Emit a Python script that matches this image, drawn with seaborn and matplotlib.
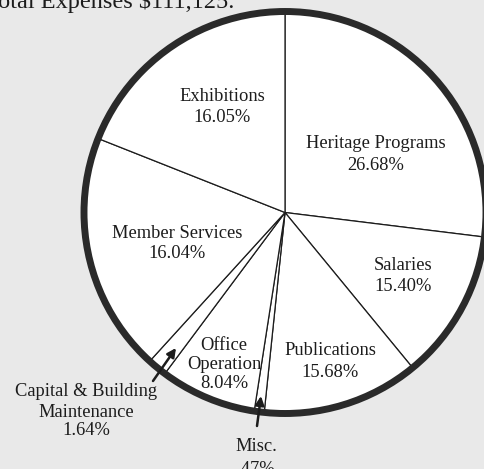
import matplotlib
matplotlib.use("Agg")
import matplotlib.pyplot as plt
import seaborn as sns
from matplotlib.patches import Circle

# ---- data (clockwise from 12 o'clock) ----
categories = ["Heritage Programs", "Salaries", "Publications", "Misc.",
              "Office\nOperation", "Capital & Building\nMaintenance",
              "Member Services", "Exhibitions"]
printed_pct = ["26.68%", "15.40%", "15.68%", ".47%",
               "8.04%", "1.64%", "16.04%", "16.05%"]
# share of the circle each wedge occupies in the artwork (percent)
drawn_share = [26.95, 12.1, 12.6, 0.8, 7.75, 1.55, 19.25, 19.0]
title = "Total Expenses $111,125."

sns.set_style("white")
plt.rcParams["font.family"] = ["Liberation Serif", "DejaVu Serif"]

W, H = 484, 469
fig = plt.figure(figsize=(W / 100, H / 100), dpi=100)
bg = "#e9e9e9"
fig.patch.set_facecolor(bg)
ax = fig.add_axes([0, 0, 1, 1])
ax.set_facecolor(bg)

cx, cy, r = 285.0, 212.5, 200.0
ink = "#1c1c1c"

# y axis inverted -> counterclock in data is clockwise on screen
ax.pie(drawn_share, center=(cx, cy), radius=r, startangle=-90,
       counterclock=True, colors=["white"] * len(drawn_share),
       wedgeprops=dict(edgecolor=ink, linewidth=0.9), frame=False)
ax.add_patch(Circle((cx, cy), r + 1, fill=False, edgecolor="#2a2a2a",
                    linewidth=5.0, zorder=5))

ax.set_xlim(0, W)
ax.set_ylim(H, 0)
ax.set_aspect("equal")
ax.axis("off")

fs = 13.3
def lines(x, ys, texts):
    for y, t in zip(ys, texts):
        ax.text(x, y, t, ha="center", va="baseline", fontsize=fs,
                color=ink, zorder=6)

lines(222, [101, 122], ["Exhibitions", printed_pct[7]])
lines(376, [148, 170], ["Heritage Programs", printed_pct[0]])
lines(177, [238, 258], ["Member Services", printed_pct[6]])
lines(403, [270, 291], ["Salaries", printed_pct[1]])
lines(330, [355, 377], ["Publications", printed_pct[2]])
lines(224, [350, 369, 388], ["Office", "Operation", printed_pct[4]])
lines(86, [396, 417, 435], ["Capital & Building", "Maintenance", printed_pct[5]])
lines(256, [451, 474], ["Misc.", printed_pct[3]])

arrow = dict(arrowstyle="-|>", color=ink, lw=1.8, mutation_scale=13,
             shrinkA=0, shrinkB=0)
ax.annotate("", xy=(176, 348), xytext=(153, 381), arrowprops=arrow, zorder=7)
ax.annotate("", xy=(261, 396), xytext=(257, 426), arrowprops=arrow, zorder=7)

ax.text(-15, 8, title, ha="left", va="baseline", fontsize=17.5, color=ink)

fig.savefig("out.png", dpi=100, facecolor=bg)
